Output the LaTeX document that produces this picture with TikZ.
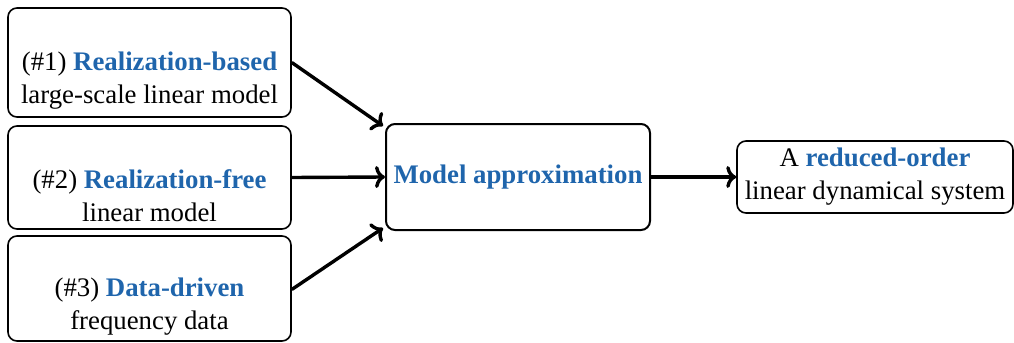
\documentclass[tikz,border=0pt]{standalone}
\usepackage{fontspec}
\setmainfont{Liberation Serif}
\usetikzlibrary{arrows.meta,calc}
\definecolor{hlblue}{RGB}{31,101,172}
\begin{document}
\begin{tikzpicture}[x=0.5pt,y=-0.5pt,
  box/.style={draw=black,line width=0.8pt,rounded corners=4.5pt,inner sep=0pt},
  txt/.style={align=center,inner sep=0pt,font=\fontsize{13.4}{16.5}\selectfont},
  conn/.style={line width=1.7pt,-{To[length=5pt,width=11pt,line width=1.7pt]}}]
\useasboundingbox (0,0) rectangle (1014,343);
\node[box,minimum width=283pt/2,minimum height=109pt/2] (b1) at (149.5,62.5) {};
\node[box,minimum width=283pt/2,minimum height=103pt/2] (b2) at (149.5,177.5) {};
\node[box,minimum width=283pt/2,minimum height=105pt/2] (b3) at (149.5,288.5) {};
\node[box,line width=1pt,minimum width=264pt/2,minimum height=106pt/2] (mid) at (518,177) {};
\node[box,minimum width=276pt/2,minimum height=72pt/2] (out) at (875,177) {};
\node[txt] (t1) at ($(b1.center)+(0,18)$) {(\#1) \textbf{\color{hlblue}Realization-based}\\large-scale linear model};
\node[txt] (t2) at ($(b2.center)+(0,18)$) {(\#2) \textbf{\color{hlblue}Realization-free}\\linear model};
\node[txt] (t3) at ($(b3.center)+(0,18)$) {(\#3) \textbf{\color{hlblue}Data-driven}\\frequency data};
\node[txt] (tm) at (mid.center) {\textbf{\color{hlblue}Model approximation}};
\node[txt] (to) at (out.center) {A \textbf{\color{hlblue}reduced-order}\\linear dynamical system};
\draw[conn] (b1.east) -- ($(mid.north west)+(-2,3)$);
\draw[conn] (b2.east) -- (mid.west);
\draw[conn] ($(b3.east)+(0,1)$) -- ($(mid.south west)+(-2,-3)$);
\draw[conn] (mid.east) -- (out.west);
\end{tikzpicture}
\end{document}
